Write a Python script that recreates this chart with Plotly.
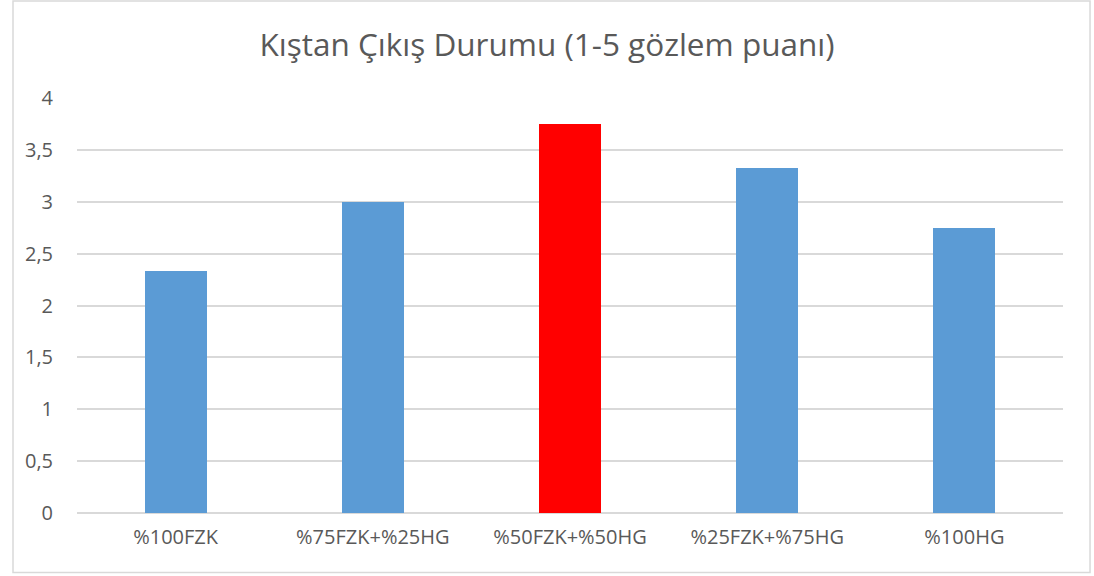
import plotly.graph_objects as go

categories = ["%100FZK", "%75FZK+%25HG", "%50FZK+%50HG", "%25FZK+%75HG", "%100HG"]
values = [2.33, 3.0, 3.75, 3.33, 2.75]
bar_colors = ["#5b9bd5", "#5b9bd5", "#ff0000", "#5b9bd5", "#5b9bd5"]

fig = go.Figure()
fig.add_trace(go.Bar(
    x=categories,
    y=values,
    marker=dict(color=bar_colors, line=dict(width=0)),
    width=0.315,
))

fig.update_layout(
    width=1094,
    height=576,
    paper_bgcolor="white",
    plot_bgcolor="white",
    margin=dict(l=77, r=31, t=98, b=63),
    separators=",.",
    font=dict(family="Open Sans", color="#595959", size=20),
    title=dict(
        text="Kıştan Çıkış Durumu (1-5 gözlem puanı)",
        x=0.5, xanchor="center",
        y=0.922, yanchor="middle",
        font=dict(size=31.5, color="#595959"),
    ),
    showlegend=False,
    bargap=0,
)
fig.update_xaxes(showgrid=False, showline=False, ticks="", ticklabelstandoff=10)
fig.update_yaxes(
    range=[0, 4], dtick=0.5, showgrid=True, gridcolor="#d9d9d9", gridwidth=1.5,
    zeroline=True, zerolinecolor="#d9d9d9", zerolinewidth=1.5,
    ticks="", ticklabelstandoff=23,
)
fig.add_shape(type="rect", xref="paper", yref="paper",
              x0=-0.0649, x1=1.0274, y0=-0.1435, y1=1.234,
              line=dict(color="#d9d9d9", width=1.5), fillcolor="rgba(0,0,0,0)",
              layer="below")

fig.write_html("out.html", config={"displayModeBar": False},
               post_script="document.body.style.margin='0';")
